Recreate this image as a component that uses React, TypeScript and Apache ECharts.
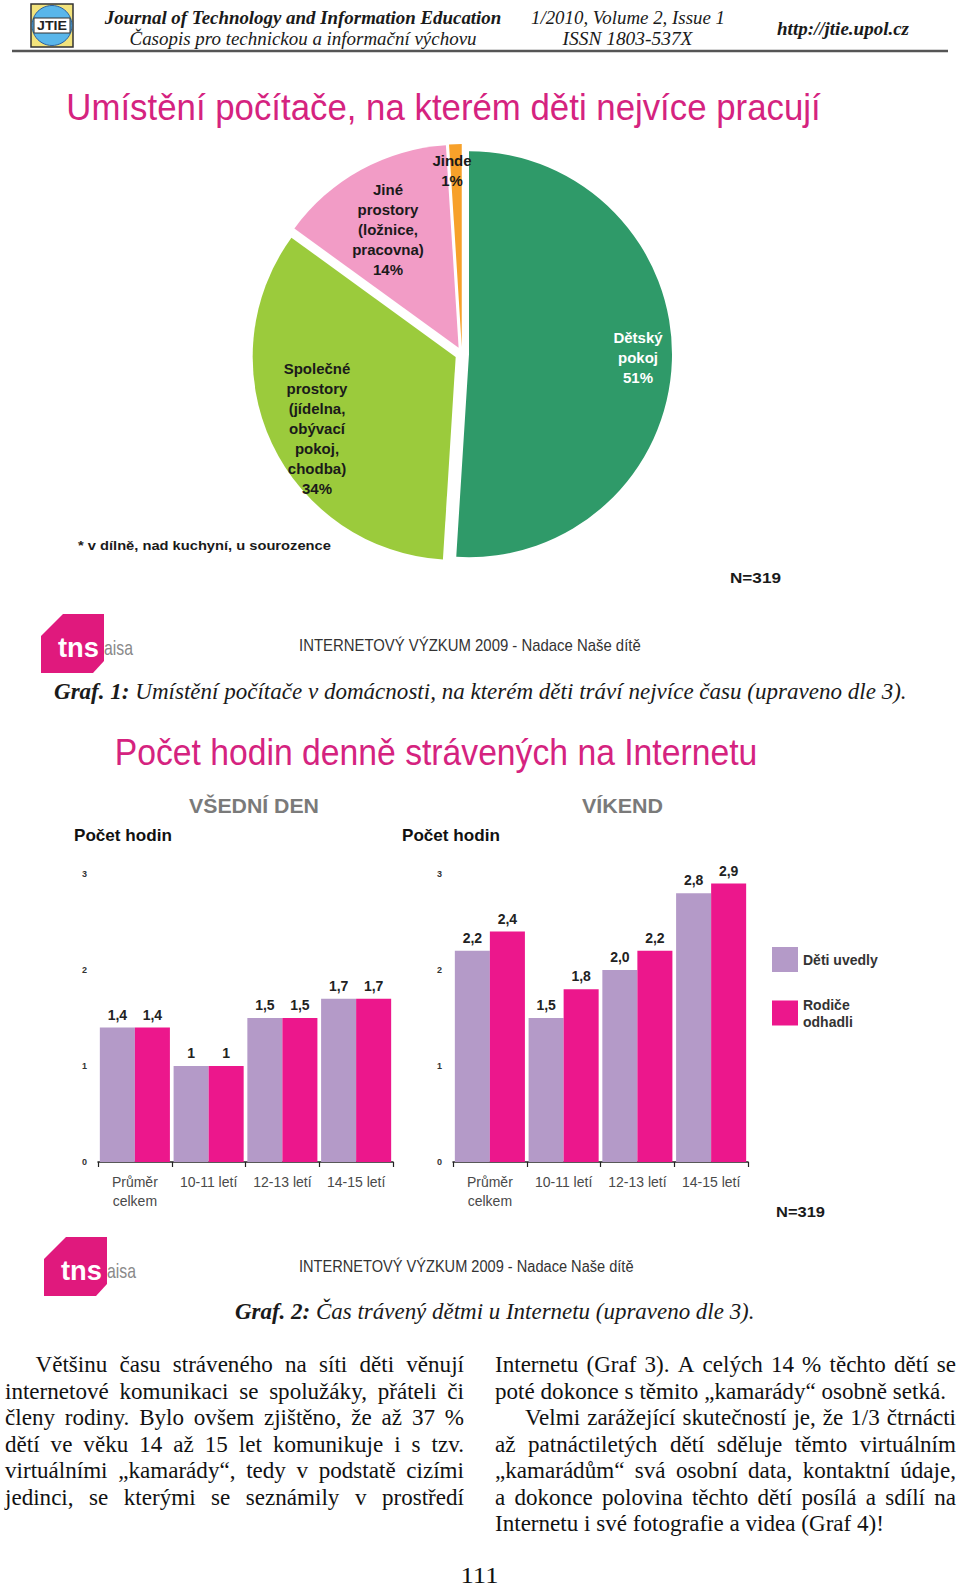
import React, { useEffect, useRef } from 'react';
import * as echarts from 'echarts';

// ---------- data ----------
const pieNames = ['Dětský pokoj', 'Společné prostory', 'Jiné prostory', 'Jinde'];
const pieValues = [51, 34, 14, 1];
const pieLabelTexts = [
  'Dětský\npokoj',
  'Společné\nprostory\n(jídelna,\nobývací\npokoj,\nchodba)',
  'Jiné\nprostory\n(ložnice,\npracovna)',
  'Jinde',
];
const pieColors = ['#2f9a69', '#9bcb3c', '#f29cc6', '#f7a12a'];
const pieLabelColors = ['#ffffff', '#1a1a1a', '#1a1a1a', '#1a1a1a'];

const barCategories = ['Průměr\ncelkem', '10-11 letí', '12-13 letí', '14-15 letí'];
const seriesNames = ['Děti uvedly', 'Rodiče\nodhadli'];
const weekdayChildren = [1.4, 1, 1.5, 1.7];
const weekdayParents = [1.4, 1, 1.5, 1.7];
const weekendChildren = [2.2, 1.5, 2.0, 2.8];
const weekendParents = [2.4, 1.8, 2.2, 2.9];
const yTickMin = 0;
const yTickMax = 3;
const yTickStep = 1;
const barColors = ['#b49ac8', '#ec178c'];

const leftParagraph = [
  'Většinu času stráveného na síti děti věnují',
  'internetové komunikaci se spolužáky, přáteli či',
  'členy rodiny. Bylo ovšem zjištěno, že až 37 %',
  'dětí ve věku 14 až 15 let komunikuje i s tzv.',
  'virtuálními „kamarády“, tedy v podstatě cizími',
  'jedinci, se kterými se seznámily v prostředí',
];
const rightParagraph = [
  'Internetu (Graf 3). A celých 14 % těchto dětí se',
  'poté dokonce s těmito „kamarády“ osobně setká.',
  'Velmi zarážející skutečností je, že 1/3 čtrnácti',
  'až patnáctiletých dětí sděluje těmto virtuálním',
  '„kamarádům“ svá osobní data, kontaktní údaje,',
  'a dokonce polovina těchto dětí posílá a sdílí na',
  'Internetu i své fotografie a videa (Graf 4)!',
];

// ---------- helpers ----------
const SANS = "'Liberation Sans', Arial, sans-serif";
const SERIF = "'Liberation Serif', 'Times New Roman', serif";

type F = { size: number; family: string; weight?: string; style?: string };
let _ctx: CanvasRenderingContext2D | null = null;
function measure(text: string, f: F) {
  if (!_ctx) _ctx = document.createElement('canvas').getContext('2d');
  const ctx = _ctx!;
  ctx.font = `${f.style || 'normal'} ${f.weight || 'normal'} ${f.size}px ${f.family}`;
  return ctx.measureText(text).width;
}
function styleOf(text: string, f: F, color: string, align: string, lineHeight?: number) {
  const s: any = {
    text,
    fill: color,
    fontSize: f.size,
    fontFamily: f.family,
    fontWeight: f.weight || 'normal',
    fontStyle: f.style || 'normal',
    align,
    textAlign: align,
    verticalAlign: 'middle',
    textVerticalAlign: 'middle',
  };
  if (lineHeight) s.lineHeight = lineHeight;
  return s;
}
function fitText(text: string, x: number, y: number, f: F, width: number | null, align: string, color: string) {
  const w = measure(text, f);
  const sx = width ? width / w : 1;
  return { type: 'text', x, y, scaleX: sx, silent: true, style: styleOf(text, f, color, align) };
}
function mixedText(parts: { t: string; f: F }[], x: number, y: number, width: number, color: string) {
  let acc = 0;
  const children: any[] = [];
  parts.forEach((p) => {
    children.push({ type: 'text', x: acc, y: 0, silent: true, style: styleOf(p.t, p.f, color, 'left') });
    acc += measure(p.t, p.f);
  });
  return { type: 'group', x, y, scaleX: width / acc, children };
}
function justifyLine(line: string, x0: number, x1: number, y: number, f: F, color: string, s: number) {
  const words = line.split(' ');
  const ws = words.map((w) => measure(w, f));
  const sum = ws.reduce((a, b) => a + b, 0);
  const avail = (x1 - x0) / s;
  const gap = words.length > 1 ? (avail - sum) / (words.length - 1) : 0;
  let x = 0;
  const children = words.map((w, i) => {
    const el = { type: 'text', x, y: 0, silent: true, style: styleOf(w, f, color, 'left') };
    x += ws[i] + gap;
    return el;
  });
  return { type: 'group', x: x0, y, scaleX: s, children };
}
function tnsLogo(dx: number, dy: number) {
  return [
    {
      type: 'polygon',
      silent: true,
      shape: {
        points: [
          [41 + dx, 636 + dy],
          [63 + dx, 614 + dy],
          [104 + dx, 614 + dy],
          [104 + dx, 661 + dy],
          [93 + dx, 673 + dy],
          [41 + dx, 673 + dy],
        ],
      },
      style: { fill: '#e0197d' },
    },
    fitText('tns', 58 + dx, 648 + dy, { size: 27, family: SANS, weight: 'bold' }, 41, 'left', '#ffffff'),
    fitText('aisa', 104 + dx, 648 + dy, { size: 20, family: SANS }, 29, 'left', '#8a8a8a'),
  ];
}

function buildOption() {
  const g: any[] = [];
  // header
  g.push({ type: 'rect', silent: true, shape: { x: 31, y: 4, width: 42, height: 43 }, style: { fill: '#f2e37c', stroke: '#333', lineWidth: 1.5 } });
  g.push({ type: 'circle', silent: true, shape: { cx: 52, cy: 25.5, r: 20 }, style: { fill: '#59b6ea', stroke: '#2c5f9e', lineWidth: 1 } });
  g.push({ type: 'rect', silent: true, shape: { x: 34, y: 18, width: 36, height: 15 }, style: { fill: '#ffffff', stroke: '#333', lineWidth: 1 } });
  g.push(fitText('JTIE', 52, 26, { size: 13, family: SANS, weight: 'bold' }, 30, 'center', '#222'));
  const hb: F = { size: 19, family: SERIF, weight: 'bold', style: 'italic' };
  const hi: F = { size: 19, family: SERIF, style: 'italic' };
  g.push(fitText('Journal of Technology and Information Education', 303, 17, hb, 397, 'center', '#1a1a1a'));
  g.push(fitText('Časopis pro technickou a informační výchovu', 303, 38.5, hi, 347, 'center', '#1a1a1a'));
  g.push(fitText('1/2010, Volume 2, Issue 1', 628, 17, hi, 194, 'center', '#1a1a1a'));
  g.push(fitText('ISSN 1803-537X', 627.5, 38.5, hi, 130, 'center', '#1a1a1a'));
  g.push(fitText('http://jtie.upol.cz', 843, 28, hb, 132, 'center', '#1a1a1a'));
  g.push({ type: 'line', silent: true, shape: { x1: 12, y1: 51, x2: 948, y2: 51 }, style: { stroke: '#555', lineWidth: 2.5 } });

  // pie figure
  g.push(fitText('Umístění počítače, na kterém děti nejvíce pracují', 443.5, 107.5, { size: 37, family: SANS }, 755, 'center', '#d5237f'));
  // pie slice labels
  const pieLabelPos = [
    [638, 357],
    [317, 428],
    [388, 229],
    [452, 170],
  ];
  pieValues.forEach((v, i) => {
    g.push({
      type: 'text',
      x: pieLabelPos[i][0],
      y: pieLabelPos[i][1],
      silent: true,
      z: 100,
      style: styleOf(`${pieLabelTexts[i]}\n${v}%`, { size: 15, family: SANS, weight: 'bold' }, pieLabelColors[i], 'center', 20),
    });
  });
  g.push(fitText('* v dílně, nad kuchyní, u sourozence', 78, 545, { size: 13, family: SANS, weight: 'bold' }, 253, 'left', '#1a1a1a'));
  g.push(fitText('N=319', 730, 577, { size: 15, family: SANS, weight: 'bold' }, 51, 'left', '#1a1a1a'));
  tnsLogo(0, 0).forEach((e) => g.push(e));
  g.push(fitText('INTERNETOVÝ VÝZKUM 2009 - Nadace Naše dítě', 299, 645, { size: 16, family: SANS }, 342, 'left', '#333'));
  const cb: F = { size: 24, family: SERIF, weight: 'bold', style: 'italic' };
  const ci: F = { size: 24, family: SERIF, style: 'italic' };
  g.push(mixedText([{ t: 'Graf. 1:', f: cb }, { t: ' Umístění počítače v domácnosti, na kterém děti tráví nejvíce času (upraveno dle 3).', f: ci }], 54, 691, 853, '#1a1a1a'));

  // bar figure
  g.push(fitText('Počet hodin denně strávených na Internetu', 436, 752, { size: 37, family: SANS }, 643, 'center', '#d5237f'));
  g.push(fitText('VŠEDNÍ DEN', 254, 806, { size: 21, family: SANS, weight: 'bold' }, 130, 'center', '#7a7a7a'));
  g.push(fitText('VÍKEND', 622.5, 806, { size: 21, family: SANS, weight: 'bold' }, 81, 'center', '#7a7a7a'));
  g.push(fitText('Počet hodin', 74, 836, { size: 16, family: SANS, weight: 'bold' }, 98, 'left', '#111'));
  g.push(fitText('Počet hodin', 402, 836, { size: 16, family: SANS, weight: 'bold' }, 98, 'left', '#111'));
  g.push(fitText('N=319', 776, 1212, { size: 15, family: SANS, weight: 'bold' }, 49, 'left', '#1a1a1a'));
  tnsLogo(3, 623).forEach((e) => g.push(e));
  g.push(fitText('INTERNETOVÝ VÝZKUM 2009 - Nadace Naše dítě', 299, 1266, { size: 16, family: SANS }, 335, 'left', '#333'));
  g.push(mixedText([{ t: 'Graf. 2:', f: cb }, { t: ' Čas trávený dětmi u Internetu (upraveno dle 3).', f: ci }], 235, 1311, 520, '#1a1a1a'));

  // body text
  const bf: F = { size: 24, family: SERIF };
  const lastLine = rightParagraph[rightParagraph.length - 1];
  const bodyScale = Math.min(1, (884 - 495) / measure(lastLine, bf));
  const top = 1364;
  const lead = 26.5;
  leftParagraph.forEach((line, i) => {
    const x0 = i === 0 ? 35.5 : 5;
    g.push(justifyLine(line, x0, 464, top + i * lead, bf, '#111', bodyScale));
  });
  rightParagraph.forEach((line, i) => {
    const x0 = i === 2 ? 525 : 495;
    const x1 = i === 1 ? 946 : i === rightParagraph.length - 1 ? 884 : 956;
    g.push(justifyLine(line, x0, x1, top + i * lead, bf, '#111', bodyScale));
  });
  g.push(fitText('111', 479.5, 1575, { size: 23, family: SERIF }, 38, 'center', '#111'));

  const xAxisCommon = {
    type: 'category',
    data: barCategories,
    axisLine: { show: true, lineStyle: { color: '#222', width: 1.5 } },
    axisTick: { show: true, length: 5, lineStyle: { color: '#222', width: 1.2 } },
    axisLabel: { interval: 0, fontSize: 14, fontFamily: SANS, color: '#4a4a4a', lineHeight: 19, margin: 10 },
  };
  const yAxisCommon = {
    type: 'value',
    min: yTickMin,
    max: yTickMax,
    interval: yTickStep,
    axisLine: { show: false },
    axisTick: { show: false },
    splitLine: { show: false },
    axisLabel: { fontSize: 9, fontWeight: 'bold', fontFamily: SANS, color: '#333', margin: 11 },
  };
  const fmtLeft = (p: any) => String(p.value).replace('.', ',');
  const fmtRight = (p: any) => Number(p.value).toFixed(1).replace('.', ',');
  const barSeries = (name: string, data: number[], idx: number, color: string, fmt: any) => ({
    type: 'bar',
    name,
    xAxisIndex: idx,
    yAxisIndex: idx,
    data,
    barGap: '0%',
    barCategoryGap: '5%',
    itemStyle: { color },
    label: {
      show: true,
      position: 'top',
      distance: 6,
      formatter: fmt,
      fontSize: 14,
      fontWeight: 'bold',
      fontFamily: SANS,
      color: '#222',
    },
  });

  return {
    animation: false,
    backgroundColor: '#ffffff',
    legend: {
      data: seriesNames,
      orient: 'vertical',
      left: 767,
      top: 942,
      itemWidth: 26,
      itemHeight: 25,
      itemGap: 24,
      icon: 'rect',
      selectedMode: false,
      textStyle: { fontSize: 14, fontWeight: 'bold', fontFamily: SANS, color: '#333', lineHeight: 17 },
    },
    grid: [
      { left: 98, top: 874, width: 295, height: 288 },
      { left: 453, top: 874, width: 295, height: 288 },
    ],
    xAxis: [
      { ...xAxisCommon, gridIndex: 0 },
      { ...xAxisCommon, gridIndex: 1 },
    ],
    yAxis: [
      { ...yAxisCommon, gridIndex: 0 },
      { ...yAxisCommon, gridIndex: 1 },
    ],
    series: [
      {
        type: 'pie',
        name: 'Umístění počítače',
        center: [462, 354],
        radius: 203,
        startAngle: 90,
        clockwise: true,
        selectedMode: 'multiple',
        selectedOffset: 7,
        avoidLabelOverlap: false,
        emphasis: { scale: false },
        data: pieValues.map((v, i) => ({
          name: pieNames[i],
          value: v,
          selected: true,
          itemStyle: { color: pieColors[i] },
        })),
        label: { show: false },
        labelLine: { show: false },
      },
      barSeries(seriesNames[0], weekdayChildren, 0, barColors[0], fmtLeft),
      barSeries(seriesNames[1], weekdayParents, 0, barColors[1], fmtLeft),
      barSeries(seriesNames[0], weekendChildren, 1, barColors[0], fmtRight),
      barSeries(seriesNames[1], weekendParents, 1, barColors[1], fmtRight),
    ],
    graphic: { elements: g },
  };
}

export default function App() {
  const ref = useRef<HTMLDivElement>(null);
  useEffect(() => {
    document.body.style.margin = '0';
    const chart = echarts.init(ref.current!, null, { renderer: 'svg' });
    chart.setOption(buildOption() as any);
    return () => chart.dispose();
  }, []);
  return <div ref={ref} style={{ width: 960, height: 1589, background: '#fff' }} />;
}
